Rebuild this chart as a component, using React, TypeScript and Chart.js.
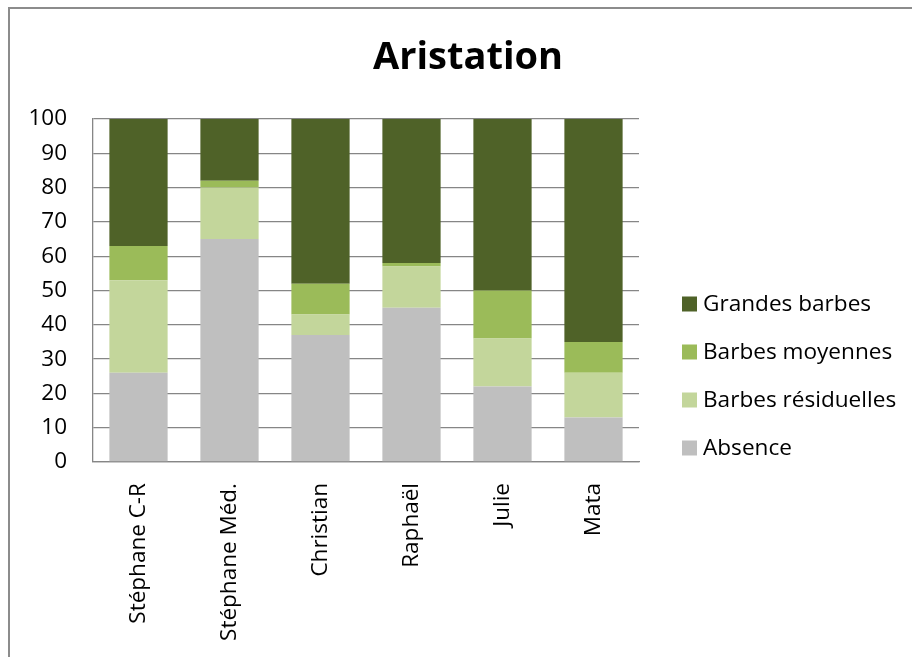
import React, { useEffect, useRef } from "react";
import { Chart, registerables } from "chart.js";

Chart.register(...registerables);

const chartTitle = "Aristation";
const categories = ["Stéphane C-R", "Stéphane Méd.", "Christian", "Raphaël", "Julie", "Mata"];
const absence = [26, 65, 37, 45, 22, 13];
const residuelles = [27, 15, 6, 12, 14, 13];
const moyennes = [10, 2, 9, 1, 14, 9];
const grandes = [37, 18, 48, 42, 50, 65];
const seriesNames = ["Absence", "Barbes résiduelles", "Barbes moyennes", "Grandes barbes"];
const seriesColors = ["#BFBFBF", "#C3D69B", "#9BBB59", "#4F6228"];
const yMin = 0;
const yMax = 100;
const yStep = 10;

const FONT = "'Open Sans', 'Noto Sans', sans-serif";

const titlePlugin = {
  id: "customTitle",
  afterDraw(chart: any) {
    const ctx = chart.ctx;
    ctx.save();
    ctx.font = `bold 38px ${FONT}`;
    ctx.fillStyle = "#000";
    ctx.textAlign = "center";
    ctx.textBaseline = "middle";
    ctx.fillText(chartTitle, 468, 58);
    ctx.restore();
  },
};

const legendPlugin = {
  id: "customLegend",
  afterDraw(chart: any) {
    const ctx = chart.ctx;
    const ds = chart.data.datasets;
    ctx.save();
    ctx.font = `22.6px ${FONT}`;
    ctx.textBaseline = "middle";
    ctx.textAlign = "left";
    let y = 304;
    for (let i = ds.length - 1; i >= 0; i--) {
      ctx.fillStyle = ds[i].backgroundColor;
      ctx.fillRect(682, y - 7.5, 15, 15);
      ctx.fillStyle = "#000";
      ctx.fillText(ds[i].label, 703, y + 1);
      y += 48;
    }
    ctx.restore();
  },
};

export default function App() {
  const canvasRef = useRef<HTMLCanvasElement | null>(null);

  useEffect(() => {
    const canvas = canvasRef.current;
    if (!canvas) return;
    const values = [absence, residuelles, moyennes, grandes];
    const chart = new Chart(canvas, {
      type: "bar",
      data: {
        labels: categories,
        datasets: values.map((v, i) => ({
          label: seriesNames[i],
          data: v,
          backgroundColor: seriesColors[i],
          borderWidth: 0,
          barPercentage: 0.64,
          categoryPercentage: 1,
        })),
      },
      options: {
        animation: false,
        responsive: false,
        maintainAspectRatio: false,
        devicePixelRatio: 1,
        layout: { padding: { left: 0, right: 273, top: 119, bottom: 0 } },
        plugins: {
          legend: { display: false },
          title: { display: false },
          tooltip: { enabled: false },
        },
        scales: {
          x: {
            stacked: true,
            grid: { display: false },
            border: { display: true, color: "#868686", width: 1.3 },
            ticks: {
              color: "#000",
              font: { family: FONT, size: 22.5 },
              minRotation: 90,
              maxRotation: 90,
              padding: 13,
              autoSkip: false,
            },
            afterFit(scale: any) {
              scale.height = 195;
            },
          },
          y: {
            stacked: true,
            min: yMin,
            max: yMax,
            grid: { color: "#868686", lineWidth: 1.3, drawTicks: false },
            border: { display: true, color: "#868686", width: 1.3 },
            ticks: {
              stepSize: yStep,
              color: "#000",
              font: { family: FONT, size: 22.5 },
              padding: 26,
            },
            afterFit(scale: any) {
              scale.width = 93;
            },
          },
        },
      },
      plugins: [titlePlugin, legendPlugin],
    });
    return () => chart.destroy();
  }, []);

  return (
    <div
      style={{
        position: "fixed",
        left: 0,
        top: 0,
        width: 912,
        height: 657,
        overflow: "hidden",
        background: "#fff",
      }}
    >
      <div
        style={{
          position: "absolute",
          left: 8,
          top: 7,
          width: 940,
          height: 700,
          border: "2px solid #8c8c8c",
          boxSizing: "border-box",
        }}
      />
      <canvas
        ref={canvasRef}
        width={912}
        height={657}
        style={{ position: "absolute", left: 0, top: 0, width: 912, height: 657 }}
      />
    </div>
  );
}
